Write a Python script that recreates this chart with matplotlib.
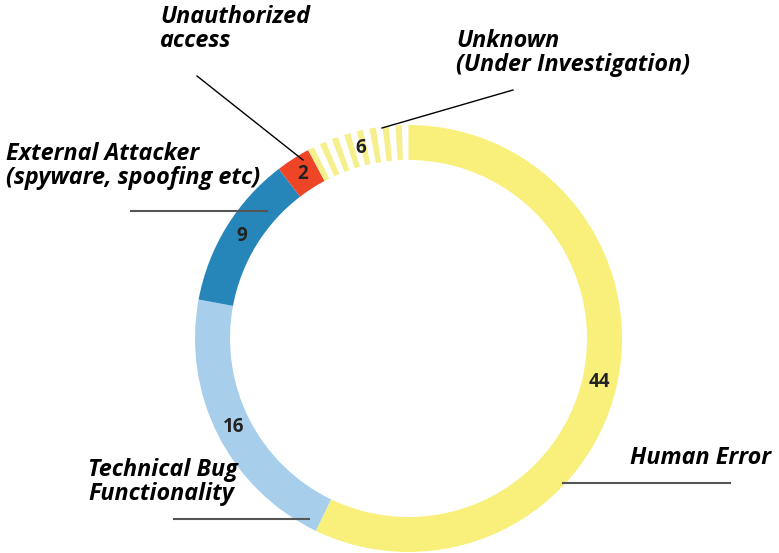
import numpy as np
import matplotlib
matplotlib.use("Agg")
import matplotlib.pyplot as plt
from matplotlib.patches import Wedge

# data
categories = ["Human Error", "Technical Bug\nFunctionality", "External Attacker\n(spyware, spoofing etc)",
              "Unauthorized\naccess", "Unknown\n(Under Investigation)"]
values = [44, 16, 9, 2, 6]
colors = ["#f8f07a", "#a7cfec", "#2786b9", "#ee4527", "none"]
stripe_color = "#f5ef8c"

W, H = 779, 553
plt.rcParams['font.family'] = ['Open Sans', 'DejaVu Sans']

fig = plt.figure(figsize=(W / 100, H / 100), dpi=100)
ax = fig.add_axes([0, 0, 1, 1])

def Y(py):
    # pixel row -> data y
    return H - py

cx, cy = 408.5, Y(338.5)
R, ring = 213.5, 35

wedges, _ = ax.pie(values, colors=colors, startangle=90, counterclock=False,
                   radius=R, center=(cx, cy), frame=True,
                   wedgeprops=dict(width=ring, linewidth=0))

# striped "unknown" segment
unk = wedges[-1]
t1, t2 = unk.theta1, unk.theta2
n_stripes = 8
period = (t2 - t1) / n_stripes
for i in range(n_stripes):
    a2 = t2 - i * period
    ax.add_patch(Wedge((cx, cy), R, a2 - 1.7, a2, width=ring,
                       facecolor=stripe_color, linewidth=0))

# value labels at ring middle
total = sum(values)
start = 90.0
for v in values:
    mid = np.deg2rad(start - v / total * 180)
    start -= v / total * 360
    r = R - ring / 2
    ax.text(cx + r * np.cos(mid), cy + r * np.sin(mid), str(v),
            ha="center", va="center", fontsize=13.5, fontweight="bold", color="#222222")

# category labels (pixel positions of top-left corners)
label_pos = [(630, 446), (88, 458), (6, 142), (160, 5), (456, 29)]
for txt, (px, py) in zip(categories, label_pos):
    ax.text(px, Y(py), txt, ha="left", va="top", fontsize=16.8, fontweight="bold",
            fontstyle="italic", color="black", linespacing=1.02)

# leader lines
ax.plot([197, 303], [Y(76), Y(160)], color="black", lw=1)
ax.plot([513, 382], [Y(90), Y(128)], color="black", lw=1)
ax.plot([131, 267], [Y(211), Y(211)], color="#555555", lw=1.5)
ax.plot([174, 309], [Y(519), Y(519)], color="#555555", lw=1.5)
ax.plot([563, 730], [Y(483), Y(483)], color="#555555", lw=1.5)

ax.set_xlim(0, W)
ax.set_ylim(0, H)
ax.set_aspect("auto")
ax.axis("off")

fig.savefig("out.png", dpi=100)
